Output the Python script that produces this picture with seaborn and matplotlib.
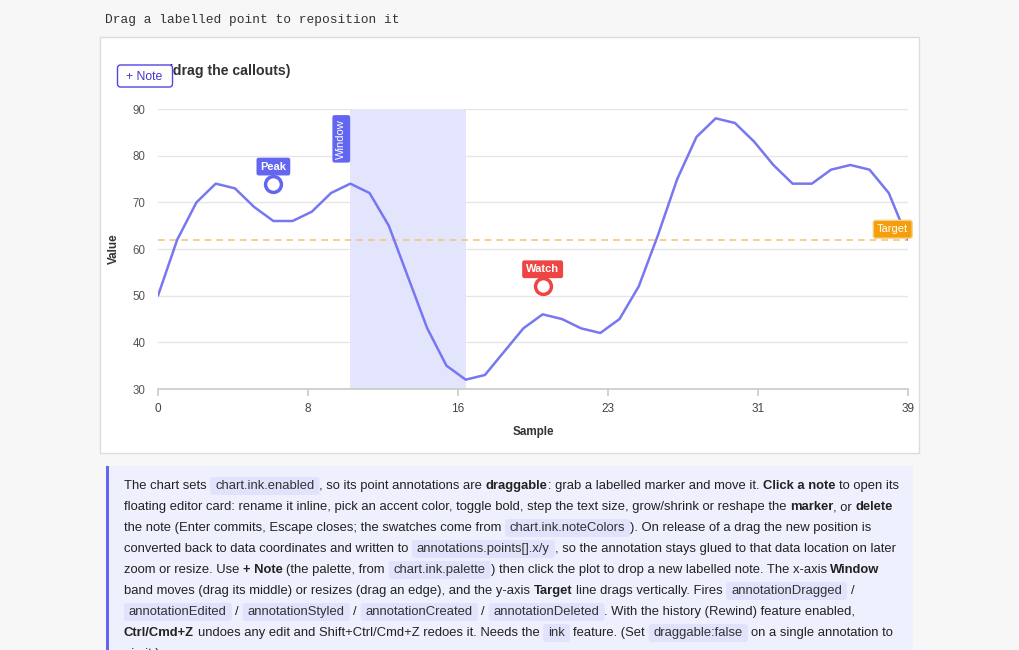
import matplotlib
matplotlib.use("Agg")
import matplotlib.pyplot as plt
import numpy as np
import pandas as pd
import seaborn as sns
from matplotlib.patches import FancyBboxPatch, Rectangle

# chart data
samples = list(range(40))
values = [50, 62, 70, 74, 73, 69, 66, 66, 68, 72,
          74, 72, 65, 54, 43, 35, 32, 33, 38, 43,
          46, 45, 43, 42, 45, 52, 63, 75, 84, 88,
          87, 83, 78, 74, 74, 77, 78, 77, 72, 62]
y_ticks = [30, 40, 50, 60, 70, 80, 90]
x_ticks = list(np.linspace(0, 39, 6))
window_band = [10, 16]
target_value = 62
note_labels = ["Peak", "Watch"]
note_x = [6, 20]
note_y = [74, 52]
note_colors = ["#6366f1", "#ef4444"]

W, H = 1020, 650

sns.set_theme(style="white")
plt.rcParams["font.family"] = ["Liberation Sans", "DejaVu Sans"]

fig = plt.figure(figsize=(W / 100, H / 100), dpi=100, facecolor="#f7f7f7")

# page layer in pixel coordinates
page = fig.add_axes([0, 0, 1, 1], zorder=0)
page.set_xlim(0, W)
page.set_ylim(H, 0)
page.axis("off")

page.text(105, 20, "Drag a labelled point to reposition it", family="Liberation Mono",
          fontsize=9.3, color="#333333", va="center", ha="left")
page.add_patch(Rectangle((100, 37), 819, 416, facecolor="white", edgecolor="#dcdcdc", lw=1))

# chart axes
ax = fig.add_axes([158 / W, (H - 389) / H, 750 / W, 280 / H], zorder=1)
ax.set_facecolor("white")
df = pd.DataFrame({"Sample": samples, "Value": values})
ax.axvspan(window_band[0], window_band[1], color="#e3e5fc", lw=0, zorder=1)
ax.axhline(target_value, color="#f8c67a", lw=1.2, ls=(0, (4, 3)), zorder=2)
sns.lineplot(data=df, x="Sample", y="Value", ax=ax, color="#7777f2", lw=1.8, zorder=3)
notes = pd.DataFrame({"x": note_x, "y": note_y, "label": note_labels})
for i, row in notes.iterrows():
    sns.scatterplot(x=[row["x"]], y=[row["y"]], ax=ax, s=130, facecolor="white",
                    edgecolor=note_colors[i], linewidth=2.5, zorder=5, clip_on=False)
    ax.annotate(row["label"], (row["x"], row["y"]), xytext=(0, 12.3), textcoords="offset points",
                ha="center", va="center", color="white", fontsize=8, fontweight="semibold",
                bbox=dict(boxstyle="round,pad=0.35,rounding_size=0.2", fc=note_colors[i], ec="none"),
                zorder=6)

ax.annotate("Target", (39, target_value), xytext=(-11, 7.5), textcoords="offset points",
            ha="center", va="center", color="white", fontsize=8, annotation_clip=False,
            bbox=dict(boxstyle="round,pad=0.35,rounding_size=0.2", fc="#f59e0b", ec="#f8d08a"),
            zorder=6)
ax.annotate("Window", (window_band[0], 90), xytext=(-6.5, -21.5), textcoords="offset points",
            ha="center", va="center", color="white", fontsize=8, rotation=90,
            bbox=dict(boxstyle="round,pad=0.35,rounding_size=0.2", fc="#6366f1", ec="none"),
            zorder=6)

ax.set_xlim(0, 39)
ax.set_ylim(30, 90)
ax.set_yticks(y_ticks)
ax.set_xticks(x_ticks)
ax.set_xticklabels([str(int(round(t))) for t in x_ticks])
ax.grid(axis="y", color="#e6e6e6", lw=1)
ax.grid(axis="x", visible=False)
for s in ["top", "right", "left"]:
    ax.spines[s].set_visible(False)
ax.spines["bottom"].set_color("#cccccc")
ax.tick_params(axis="y", length=0, pad=9, labelsize=8.3, labelcolor="#555555")
ax.tick_params(axis="x", length=5, color="#cccccc", pad=5, labelsize=8.5, labelcolor="#444444",
               bottom=True)
ax.set_xlabel("Sample", fontsize=8.4, fontweight="bold", color="#333333")
ax.set_ylabel("Value", fontsize=8.4, fontweight="bold", color="#333333")
ax.xaxis.set_label_coords(0.5, -0.132)
ax.yaxis.set_label_coords(-0.051, 0.5)

# title and note button over the chart
top = fig.add_axes([0, 0, 1, 1], zorder=2)
top.set_xlim(0, W)
top.set_ylim(H, 0)
top.axis("off")
top.patch.set_alpha(0)
top.text(168, 70.5, "(drag the callouts)", fontsize=10.2, fontweight="bold", color="#333333",
         va="center", ha="left", zorder=1)
top.add_patch(FancyBboxPatch((117.5, 65), 55, 22, boxstyle="round,pad=0,rounding_size=3",
                             fc="white", ec="#4f46e5", lw=1, zorder=2))
top.text(144.5, 76.5, "+ Note", fontsize=8.8, color="#4338ca", ha="center", va="center", zorder=3)

# description box
top.add_patch(Rectangle((106, 466), 807, 200, facecolor="#eef0fd", edgecolor="none"))
top.add_patch(Rectangle((106, 466), 3, 200, facecolor="#6366f1", edgecolor="none"))

desc_lines = [
    [("n", "The chart sets "), ("c", "chart.ink.enabled"), ("n", ", so its point annotations are "),
     ("b", "draggable"), ("n", ": grab a labelled marker and move it. "), ("b", "Click a note"),
     ("n", " to open its")],
    [("n", "floating editor card: rename it inline, pick an accent color, toggle bold, step the text size, grow/shrink or reshape the "),
     ("b", "marker"), ("n", ", or "), ("b", "delete")],
    [("n", "the note (Enter commits, Escape closes; the swatches come from "), ("c", "chart.ink.noteColors"),
     ("n", "). On release of a drag the new position is")],
    [("n", "converted back to data coordinates and written to "), ("c", "annotations.points[].x/y"),
     ("n", ", so the annotation stays glued to that data location on later")],
    [("n", "zoom or resize. Use "), ("b", "+ Note"), ("n", " (the palette, from "), ("c", "chart.ink.palette"),
     ("n", ") then click the plot to drop a new labelled note. The x-axis "), ("b", "Window")],
    [("n", "band moves (drag its middle) or resizes (drag an edge), and the y-axis "), ("b", "Target"),
     ("n", " line drags vertically. Fires "), ("c", "annotationDragged"), ("n", " /")],
    [("c", "annotationEdited"), ("n", " / "), ("c", "annotationStyled"), ("n", " / "), ("c", "annotationCreated"),
     ("n", " / "), ("c", "annotationDeleted"), ("n", ". With the history (Rewind) feature enabled,")],
    [("b", "Ctrl/Cmd+Z"), ("n", " undoes any edit and Shift+Ctrl/Cmd+Z redoes it. Needs the "), ("c", "ink"),
     ("n", " feature. (Set "), ("c", "draggable:false"), ("n", " on a single annotation to")],
    [("n", "pin it.)")],
]

renderer = fig.canvas.get_renderer()
FS = 9.35


def text_width(s, weight):
    t = top.text(0, 0, s, fontsize=FS, fontweight=weight)
    w = t.get_window_extent(renderer=renderer).width
    t.remove()
    return w


space_w = text_width("x x", "normal") - text_width("xx", "normal")

for k, line in enumerate(desc_lines):
    x = 124
    y = 486 + 21 * k
    for kind, s in line:
        weight = "bold" if kind == "b" else "normal"
        if kind == "c":
            w = text_width(s, weight)
            top.add_patch(FancyBboxPatch((x, y - 9), w + 10, 18, boxstyle="round,pad=0,rounding_size=3",
                                         fc="#e0e3fb", ec="none"))
            top.text(x + 5, y, s, fontsize=FS, color="#333333", va="center", ha="left")
            x += w + 10
            continue
        lead = len(s) - len(s.lstrip(" "))
        trail = len(s) - len(s.rstrip(" "))
        core = s.strip(" ")
        x += lead * space_w
        if core:
            top.text(x, y, core, fontsize=FS, fontweight=weight, color="#222222", va="center", ha="left")
            x += text_width(core, weight)
        x += trail * space_w

fig.savefig("out.png", dpi=100, facecolor=fig.get_facecolor())
